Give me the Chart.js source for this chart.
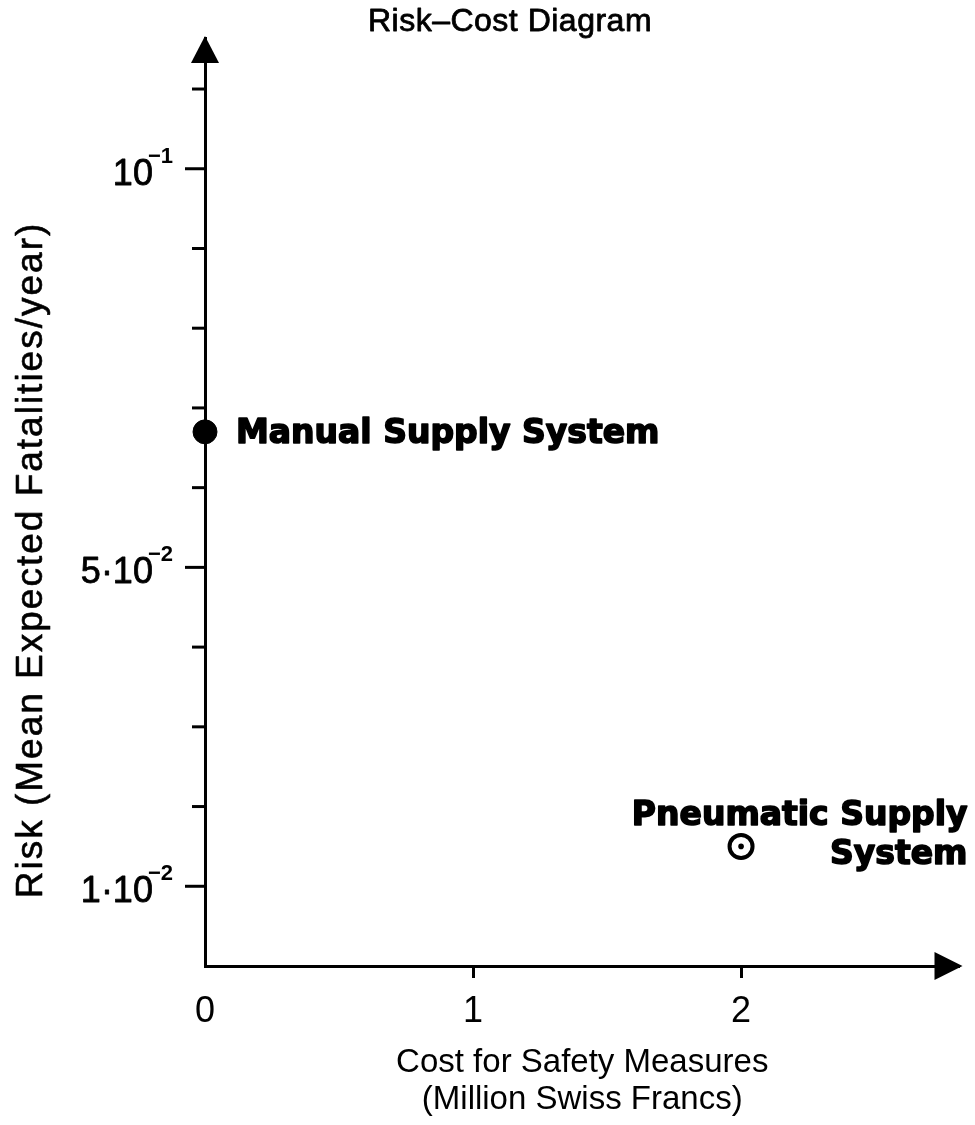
<!DOCTYPE html>
<html><head><meta charset="utf-8">
<script src="https://cdn.jsdelivr.net/npm/chart.js@4.4.1/dist/chart.umd.min.js"></script>
<style>html,body{margin:0;padding:0;background:#fff;}#wrap{width:975px;height:1125px;}</style>
</head><body><div id="wrap"><canvas id="c" width="975" height="1125"></canvas></div>
<script>
// ---- data ----
const systems = ['Manual Supply System', 'Pneumatic Supply System'];
const costValues = [0, 2];            // Million Swiss Francs
const riskValues = [0.067, 0.015];    // mean expected fatalities / year
const xTickValues = [0, 1, 2];
const yTickStep = 0.01;
const yLabelValues = [0.1, 0.05, 0.01];
const yLabelBases = ['10', '5·10', '1·10'];
const yLabelExponents = ['−1', '−2', '−2'];
const titleText = 'Risk–Cost Diagram';
const yTitleText = 'Risk (Mean Expected Fatalities/year)';
const xTitleLines = ['Cost for Safety Measures', '(Million Swiss Francs)'];
const annotationLines = [['Manual Supply System'], ['Pneumatic Supply', 'System']];

const FONT = '"Liberation Sans", Arial, Helvetica, sans-serif';
const HEAVY = '"DejaVu Sans", "Liberation Sans", sans-serif';

function heavyText(ctx, txt, x, y, stroke) {
  ctx.fillText(txt, x, y);
  if (stroke) { ctx.lineWidth = stroke; ctx.lineJoin = 'round'; ctx.strokeText(txt, x, y); }
}

const decorPlugin = {
  id: 'decor',
  afterDraw(chart) {
    const ctx = chart.ctx;
    const ca = chart.chartArea;
    const xs = chart.scales.x, ys = chart.scales.y;
    ctx.save();
    ctx.fillStyle = '#000';
    ctx.strokeStyle = '#000';
    // arrows
    const x0 = xs.getPixelForValue(0), y0 = ys.getPixelForValue(0);
    ctx.beginPath();
    ctx.moveTo(x0, ca.top - 2); ctx.lineTo(x0 - 14, ca.top + 25); ctx.lineTo(x0 + 14, ca.top + 25); ctx.closePath(); ctx.fill();
    ctx.beginPath();
    ctx.moveTo(ca.right + 3, y0); ctx.lineTo(ca.right - 25, y0 - 14); ctx.lineTo(ca.right - 25, y0 + 14); ctx.closePath(); ctx.fill();
    // y ticks + labels
    ys.ticks.forEach(t => {
      if (t.value <= 0) return;
      const py = ys.getPixelForValue(t.value);
      const idx = yLabelValues.findIndex(v => Math.abs(v - t.value) < 1e-6);
      const len = idx >= 0 ? 20 : 13;
      ctx.lineWidth = 3;
      ctx.beginPath(); ctx.moveTo(x0 - len, py); ctx.lineTo(x0, py); ctx.stroke();
      if (idx >= 0) {
        const supRight = x0 - len - 12;
        ctx.textAlign = 'right'; ctx.textBaseline = 'alphabetic';
        ctx.font = 'bold 22px ' + FONT;
        ctx.fillText(yLabelExponents[idx], supRight, py - 6);
        const w = ctx.measureText(yLabelExponents[idx]).width;
        ctx.font = '36px ' + FONT;
        heavyText(ctx, yLabelBases[idx], supRight - w + 5, py + 16, 0.8);
      }
    });
    // title
    ctx.font = '32px ' + FONT;
    ctx.textAlign = 'center'; ctx.textBaseline = 'middle';
    try { ctx.letterSpacing = '0.5px'; } catch (e) {}
    heavyText(ctx, titleText, 510, 22, 0.8);
    // y title
    ctx.save();
    ctx.translate(32, 560); ctx.rotate(-Math.PI / 2);
    ctx.font = '37px ' + FONT;
    try { ctx.letterSpacing = '2px'; } catch (e) {}
    heavyText(ctx, yTitleText, 0, 0, 0.6);
    ctx.restore();
    try { ctx.letterSpacing = '0px'; } catch (e) {}
    // annotations
    ctx.font = 'bold 33px ' + HEAVY;
    const p0x = xs.getPixelForValue(costValues[0]), p0y = ys.getPixelForValue(riskValues[0]);
    ctx.textAlign = 'left'; ctx.textBaseline = 'middle';
    heavyText(ctx, annotationLines[0][0], p0x + 31, p0y + 3, 1.6);
    const p1y = ys.getPixelForValue(riskValues[1]);
    ctx.textAlign = 'right';
    heavyText(ctx, annotationLines[1][0], ca.right + 8, p1y - 30, 1.6);
    heavyText(ctx, annotationLines[1][1], ca.right + 8, p1y + 9, 1.6);
    ctx.restore();
  }
};

new Chart(document.getElementById('c'), {
  type: 'scatter',
  data: {
    datasets: [
      { label: systems[0], data: [{ x: costValues[0], y: riskValues[0] }], order: 1,
        pointRadius: 12, pointBackgroundColor: '#000', pointBorderColor: '#000', pointBorderWidth: 1 },
      { label: systems[1] + ' centre', data: [{ x: costValues[1], y: riskValues[1] }], order: 0,
        pointRadius: 2.8, pointBackgroundColor: '#000', pointBorderColor: '#000', pointBorderWidth: 0 },
      { label: systems[1], data: [{ x: costValues[1], y: riskValues[1] }], order: 2,
        pointRadius: 11.5, pointBackgroundColor: '#fff', pointBorderColor: '#000', pointBorderWidth: 4 }
    ]
  },
  options: {
    responsive: false, animation: false, devicePixelRatio: 1,
    clip: false,
    layout: { padding: { top: 38, left: 0, right: 10, bottom: 0 } },
    plugins: { legend: { display: false }, tooltip: { enabled: false }, title: { display: false } },
    scales: {
      x: {
        type: 'linear', position: 'bottom', min: 0, max: 2.815,
        afterBuildTicks: s => { s.ticks = xTickValues.map(v => ({ value: v })); },
        afterFit: s => { s.height = 159; },
        grid: { drawOnChartArea: false, drawTicks: true, tickLength: 12, tickWidth: 3,
                tickColor: c => (c.tick && c.tick.value === 0) ? 'rgba(0,0,0,0)' : '#000' },
        border: { display: true, color: '#000', width: 3 },
        ticks: { autoSkip: false, maxRotation: 0, padding: 12, color: '#000',
                 font: { family: FONT, size: 36 }, callback: v => String(v) },
        title: { display: true, text: xTitleLines, color: '#000',
                 font: { family: FONT, size: 33, lineHeight: 1.13 }, padding: { top: 0, bottom: 6 } }
      },
      y: {
        type: 'linear', position: 'left', min: 0, max: 0.1164,
        afterBuildTicks: s => { const arr = []; for (let i = 0; i * yTickStep <= 0.1164; i++) arr.push({ value: +(i * yTickStep).toFixed(2) }); s.ticks = arr; },
        afterFit: s => { s.width = 205; },
        grid: { display: false, drawTicks: false },
        border: { display: true, color: '#000', width: 3 },
        ticks: { display: false }
      }
    }
  },
  plugins: [decorPlugin]
});
</script>
</body></html>
